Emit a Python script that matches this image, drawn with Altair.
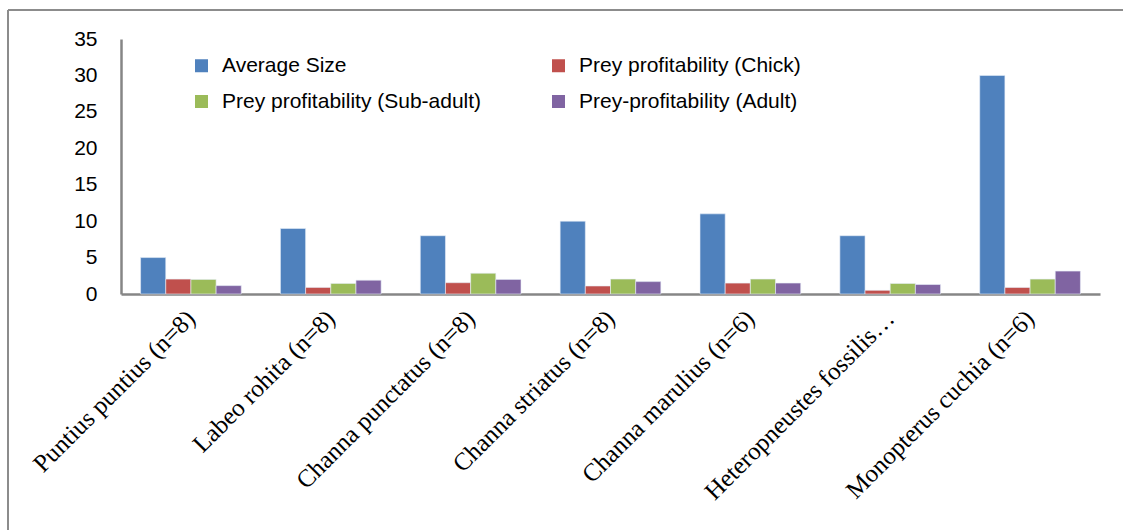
import altair as alt
import pandas as pd

categories = [
    "Puntius puntius (n=8)",
    "Labeo rohita (n=8)",
    "Channa punctatus (n=8)",
    "Channa striatus (n=8)",
    "Channa marulius (n=6)",
    "Heteropneustes fossilis…",
    "Monopterus cuchia (n=6)",
]
series = [
    "Average Size",
    "Prey profitability (Chick)",
    "Prey profitability (Sub-adult)",
    "Prey-profitability (Adult)",
]
colors = ["#4F81BD", "#C0504D", "#9BBB59", "#8064A2"]
legend_order = [series[0], series[2], series[1], series[3]]

average_size = [5, 9, 8, 10, 11, 8, 30]
chick = [2.05, 0.9, 1.55, 1.1, 1.5, 0.5, 0.9]
sub_adult = [2.0, 1.45, 2.85, 2.05, 2.05, 1.45, 2.05]
adult = [1.15, 1.9, 2.0, 1.7, 1.5, 1.3, 3.15]

rows = []
for vals, s in zip([average_size, chick, sub_adult, adult], series):
    for c, v in zip(categories, vals):
        rows.append({"Species": c, "Series": s, "Value": v})
df = pd.DataFrame(rows)

bars = alt.Chart(df).mark_bar(stroke="#e8eef8", strokeWidth=0.6).encode(
    x=alt.X(
        "Species:N",
        sort=categories,
        title=None,
        scale=alt.Scale(paddingInner=0.28, paddingOuter=0.14),
        axis=alt.Axis(
            labelAngle=-45,
            labelAlign="right",
            labelBaseline="middle",
            labelFont="Liberation Serif",
            labelFontSize=25,
            labelColor="#000000",
            labelPadding=20,
            labelLimit=400,
            ticks=False,
            domainColor="#868686",
            domainWidth=2.5,
        ),
    ),
    xOffset=alt.XOffset("Series:N", sort=series, scale=alt.Scale(paddingInner=0, paddingOuter=0)),
    y=alt.Y(
        "Value:Q",
        title=None,
        scale=alt.Scale(domain=[0, 35], nice=False),
        axis=alt.Axis(
            values=[0, 5, 10, 15, 20, 25, 30, 35],
            grid=False,
            ticks=False,
            labelFont="Liberation Sans",
            labelFontSize=21,
            labelColor="#000000",
            labelPadding=24,
            domainColor="#868686",
            domainWidth=2.5,
        ),
    ),
    color=alt.Color(
        "Series:N",
        sort=series,
        scale=alt.Scale(domain=series, range=colors),
        legend=alt.Legend(
            title=None,
            orient="none",
            legendX=70,
            legendY=16,
            columns=2,
            values=legend_order,
            columnPadding=66,
            rowPadding=14,
            symbolType="square",
            symbolSize=169,
            symbolStrokeWidth=0,
            labelFont="Liberation Sans",
            labelFontSize=21,
            labelColor="#000000",
            labelOffset=10,
            labelLimit=400,
        ),
    ),
)

frame = alt.Chart(alt.Data(values=[{}])).mark_rule(color="#8c8c8c", strokeWidth=2)
left_line = frame.encode(x=alt.value(-113), y=alt.value(-29), y2=alt.value(491))
top_line = frame.encode(x=alt.value(-113), x2=alt.value(1002), y=alt.value(-29))

chart = alt.layer(bars, left_line, top_line).properties(
    width=979,
    height=255,
    autosize=alt.AutoSizeParams(type="none"),
    padding={"left": 121, "top": 39, "right": 23, "bottom": 236},
    background="white",
).configure_view(stroke=None)

chart.save("out.html", embed_options={"renderer": "svg", "actions": False})
